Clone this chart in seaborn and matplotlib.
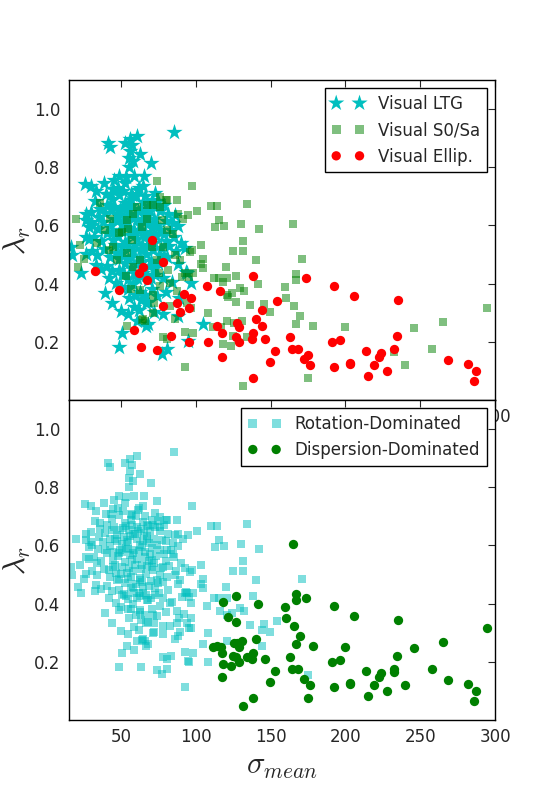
import matplotlib
matplotlib.use('Agg')
import matplotlib.pyplot as plt
import seaborn as sns

# Visual late-type galaxies (all rotation-dominated)
ltg_sigma = [85.6, 41.3, 42.3, 52.5, 55.9, 60.4, 57.5, 55.9, 62.6, 69.8, 55.4, 58.0,
             48.7, 53.2, 58.8, 65.5, 55.4, 45.0, 25.7, 30.2, 38.5, 33.1, 44.3, 51.4,
             72.8, 70.4, 62.0, 57.0, 66.0, 39.8, 29.7, 26.4, 28.6, 17.5, 16.3, 23.5,
             26.4, 33.1,
             32.5, 36.2, 40.4, 44.1, 48.6, 52.3, 56.8, 60.2, 64.5, 68.1, 72.6, 76.3,
             35.4, 39.2, 43.7, 47.1, 51.5, 55.3, 59.6, 63.2, 67.4, 71.8, 80.2, 84.5, 88.1,
             30.3, 34.6, 38.1, 42.7, 46.2, 50.4, 54.8, 58.3, 62.6, 66.2, 70.7, 74.1, 78.5, 85.2, 90.3, 92.6,
             28.4, 32.1, 36.7, 40.3, 44.5, 48.2, 52.7, 56.1, 60.6, 64.3, 68.5, 72.2, 76.6, 82.1, 86.4,
             26.2, 30.5, 34.1, 38.6, 42.3, 46.7, 50.2, 54.5, 58.1, 62.4, 66.8, 70.3, 74.7, 80.4, 88.2, 93.1,
             36.3, 40.6, 44.2, 48.5, 52.1, 56.6, 60.3, 64.7, 68.2, 72.5, 78.1, 84.3, 97.0, 94.0,
             39.1, 42.0, 46.4, 50.1, 54.6, 58.2, 62.5, 66.1, 70.6, 74.2, 80.3, 88.4,
             43.6, 49.9, 54.3, 58.4, 62.1, 66.5, 72.3, 78.2, 88.0, 60.4, 68.3,
             50.3, 48.7, 66.6, 77.1, 80.5, 95.0, 104.6, 86.0, 26.8, 30.2,
             45.5, 49.2, 53.6, 57.4, 61.3, 65.2, 69.4, 47.3, 51.8, 56.2, 60.8, 64.6, 68.7,
             44.6, 49.1, 53.3, 57.9, 61.7, 65.9, 69.2, 73.4, 46.1, 50.7, 55.2, 59.4, 63.1,
             67.3, 71.5, 75.8, 48.4, 52.9, 56.5, 60.1, 64.2, 68.8, 72.9, 50.6, 54.8, 58.7,
             62.9, 66.4, 70.2, 55.5, 59.8, 63.4, 67.7, 56.9, 61.1, 64.8, 52.4, 47.8, 43.2,
             74.5, 78.4, 81.6, 76.2, 80.1, 83.7]
ltg_lam = [0.922, 0.884, 0.868, 0.884, 0.896, 0.907, 0.875, 0.856, 0.847, 0.816, 0.833, 0.820,
           0.771, 0.765, 0.771, 0.771, 0.800, 0.755, 0.743, 0.737, 0.745, 0.720, 0.726, 0.720,
           0.711, 0.686, 0.730, 0.705, 0.700, 0.709, 0.646, 0.618, 0.595, 0.498, 0.527, 0.436,
           0.561, 0.465,
           0.683, 0.655, 0.672, 0.692, 0.703, 0.677, 0.688, 0.702, 0.681, 0.668, 0.662, 0.648,
           0.628, 0.643, 0.652, 0.637, 0.661, 0.654, 0.641, 0.658, 0.633, 0.621, 0.617, 0.607, 0.598,
           0.602, 0.588, 0.612, 0.597, 0.623, 0.604, 0.611, 0.586, 0.603, 0.578, 0.592, 0.601, 0.571, 0.562, 0.538, 0.521,
           0.553, 0.562, 0.547, 0.573, 0.551, 0.564, 0.542, 0.568, 0.553, 0.532, 0.548, 0.539, 0.522, 0.531, 0.512,
           0.503, 0.512, 0.497, 0.518, 0.492, 0.507, 0.501, 0.483, 0.513, 0.488, 0.502, 0.478, 0.472, 0.491, 0.468, 0.441,
           0.452, 0.461, 0.443, 0.448, 0.432, 0.453, 0.421, 0.438, 0.412, 0.428, 0.418, 0.407, 0.402, 0.436,
           0.368, 0.419, 0.401, 0.388, 0.381, 0.398, 0.372, 0.362, 0.383, 0.358, 0.371, 0.352,
           0.334, 0.306, 0.294, 0.321, 0.308, 0.332, 0.302, 0.294, 0.290, 0.272, 0.262,
           0.232, 0.183, 0.255, 0.158, 0.175, 0.204, 0.260, 0.635, 0.640, 0.612,
           0.665, 0.652, 0.668, 0.671, 0.648, 0.642, 0.651, 0.615, 0.628, 0.632, 0.622, 0.615, 0.608,
           0.578, 0.585, 0.592, 0.574, 0.582, 0.561, 0.571, 0.563, 0.532, 0.527, 0.521, 0.533, 0.518,
           0.529, 0.515, 0.498, 0.485, 0.471, 0.492, 0.468, 0.474, 0.462, 0.455, 0.428, 0.415, 0.437,
           0.425, 0.431, 0.418, 0.352, 0.361, 0.345, 0.338, 0.708, 0.722, 0.735, 0.745, 0.728, 0.708,
           0.685, 0.672, 0.641, 0.585, 0.548, 0.585]

# Visual S0/Sa, split by kinematic class
s0_rot_sigma = [97.2, 110.0, 114.0, 134.5, 101.0, 115.7, 113.0, 118.5, 130.5, 142.0, 131.8, 103.7,
                124.7, 131.8, 97.2, 104.6, 139.9, 170.7, 103.3, 105.0, 120.2, 112.2, 115.3, 121.0,
                129.6, 132.3, 120.6, 124.0, 135.9, 145.7, 149.7, 108.4, 121.0, 98.3,
                73.8, 19.7, 22.4, 25.0, 21.2, 36.2, 87.2, 80.5, 95.0, 91.6, 98.3, 92.7, 78.2, 80.9,
                93.0, 53.7, 66.0, 63.7, 86.0, 90.5, 95.2, 87.2, 96.5, 93.9,
                42.5, 50.3, 54.8, 57.0, 63.7, 67.5, 76.0, 80.5, 84.9, 86.0, 96.1, 70.4, 57.7, 53.2,
                62.6, 56.3, 71.0, 72.0, 64.8, 71.5, 81.6, 75.5, 82.7, 44.7, 33.6, 48.7, 60.4, 71.5,
                77.1, 88.3, 53.7, 62.6, 89.4, 78.2, 92.7, 76.0, 82.7, 73.8, 39.1, 42.0, 47.0, 53.7,
                58.1, 67.5, 76.0, 80.0]
s0_rot_lam = [0.735, 0.667, 0.667, 0.675, 0.650, 0.620, 0.595, 0.598, 0.606, 0.588, 0.547, 0.534,
              0.512, 0.512, 0.515, 0.485, 0.480, 0.486, 0.468, 0.453, 0.456, 0.420, 0.420, 0.420,
              0.385, 0.374, 0.362, 0.368, 0.326, 0.331, 0.303, 0.299, 0.272, 0.229,
              0.752, 0.623, 0.533, 0.485, 0.456, 0.678, 0.686, 0.686, 0.635, 0.621, 0.436, 0.234, 0.217, 0.209,
              0.113, 0.255, 0.272, 0.275, 0.277, 0.423, 0.423, 0.374, 0.317, 0.334,
              0.621, 0.578, 0.589, 0.550, 0.595, 0.623, 0.663, 0.584, 0.572, 0.499, 0.510, 0.527, 0.457, 0.427,
              0.379, 0.382, 0.362, 0.334, 0.277, 0.300, 0.447, 0.436, 0.402, 0.527, 0.538, 0.575, 0.663, 0.669,
              0.618, 0.640, 0.504, 0.481, 0.481, 0.527, 0.436, 0.391, 0.323, 0.481, 0.584, 0.515, 0.481, 0.618,
              0.640, 0.669, 0.697, 0.688]
s0_disp_sigma = [165.0, 167.0, 166.7, 118.4, 127.0, 141.7, 159.3, 121.8, 160.0, 127.0, 165.3, 169.4,
                 131.0, 125.6, 166.7, 178.0, 200.0, 111.3, 116.7, 125.1, 118.4, 123.8, 134.5, 174.7,
                 131.8, 245.8, 265.2, 294.7, 232.4, 257.6, 239.7]
s0_disp_lam = [0.606, 0.433, 0.411, 0.405, 0.425, 0.400, 0.387, 0.353, 0.351, 0.336, 0.324, 0.290,
               0.270, 0.263, 0.260, 0.255, 0.251, 0.251, 0.251, 0.221, 0.194, 0.184, 0.215, 0.074,
               0.047, 0.246, 0.268, 0.316, 0.165, 0.176, 0.120]

# Visual ellipticals, split by kinematic class
ell_rot_sigma = [138.5, 107.7, 116.2, 97.0, 95.6, 154.0, 144.4, 144.4, 108.4, 95.6, 174.7,
                 32.6, 48.7, 58.8, 63.5, 74.2, 64.8, 62.1, 67.1, 78.2, 92.1, 87.6, 78.2,
                 89.4, 83.1, 70.8]
ell_rot_lam = [0.425, 0.391, 0.374, 0.351, 0.316, 0.340, 0.309, 0.256, 0.198, 0.198, 0.156,
               0.445, 0.377, 0.241, 0.181, 0.173, 0.456, 0.435, 0.412, 0.476, 0.365, 0.334, 0.323,
               0.303, 0.221, 0.550]
ell_disp_sigma = [173.8, 192.6, 139.9, 114.0, 127.4, 129.1, 117.8, 138.5, 162.6, 127.0, 129.1,
                  137.2, 146.1, 153.2, 164.0, 168.0, 190.8, 196.2, 172.5, 176.0, 117.8, 149.7,
                  192.6, 138.5, 202.9, 206.0, 235.0, 234.2, 214.0, 232.4, 222.3, 223.9, 203.3,
                  219.4, 215.0, 227.7, 268.6, 282.0, 287.3, 286.0]
ell_disp_lam = [0.418, 0.391, 0.280, 0.256, 0.263, 0.251, 0.232, 0.232, 0.217, 0.217, 0.201,
                0.208, 0.210, 0.170, 0.176, 0.176, 0.198, 0.207, 0.142, 0.122, 0.149, 0.130,
                0.115, 0.074, 0.126, 0.357, 0.343, 0.221, 0.170, 0.176, 0.149, 0.160, 0.125,
                0.122, 0.081, 0.099, 0.136, 0.125, 0.101, 0.067]

x_ticks = [50, 100, 150, 200, 250, 300]
y_ticks = [0.2, 0.4, 0.6, 0.8, 1.0]

sns.set_style('white')
plt.rcParams['font.family'] = ['DejaVu Sans']
plt.rcParams['mathtext.fontset'] = 'cm'

CYAN = '#00bfbf'
GREEN = '#008000'
RED = '#ff0000'

fig, (ax1, ax2) = plt.subplots(2, 1, figsize=(5.5, 8), dpi=100)
fig.subplots_adjust(left=0.125, right=0.9, top=0.9, bottom=0.1, hspace=0)

# top panel: visual morphology
sns.scatterplot(x=ltg_sigma, y=ltg_lam, marker='*', s=150, color=CYAN, linewidth=0,
                label='Visual LTG', ax=ax1)
sns.scatterplot(x=s0_rot_sigma + s0_disp_sigma, y=s0_rot_lam + s0_disp_lam, marker='s',
                s=40, color=GREEN, alpha=0.5, linewidth=0, label='Visual S0/Sa', ax=ax1)
sns.scatterplot(x=ell_rot_sigma + ell_disp_sigma, y=ell_rot_lam + ell_disp_lam, marker='o',
                s=45, color=RED, linewidth=0, label='Visual Ellip.', ax=ax1)

# bottom panel: kinematic class
sns.scatterplot(x=ltg_sigma + s0_rot_sigma + ell_rot_sigma, y=ltg_lam + s0_rot_lam + ell_rot_lam,
                marker='s', s=40, color=CYAN, alpha=0.5, linewidth=0,
                label='Rotation-Dominated', ax=ax2)
sns.scatterplot(x=s0_disp_sigma + ell_disp_sigma, y=s0_disp_lam + ell_disp_lam, marker='o',
                s=45, color=GREEN, linewidth=0, label='Dispersion-Dominated', ax=ax2)

for ax in (ax1, ax2):
    ax.set_xlim(15, 300)
    ax.set_ylim(0, 1.1)
    ax.set_xticks(x_ticks)
    ax.set_yticks(y_ticks)
    ax.tick_params(direction='in', top=True, right=True, length=5, width=0.8,
                   labelsize=12, pad=6)
    for sp in ax.spines.values():
        sp.set_color('black')
        sp.set_linewidth(1)
    ax.set_ylabel(r'$\lambda_r$', fontsize=22, labelpad=1)
    ax.legend(loc='upper right', scatterpoints=2, scatteryoffsets=[0.5], fontsize=12,
              fancybox=False, edgecolor='black', framealpha=1, handlelength=2,
              handletextpad=0.8, borderpad=0.4, labelspacing=0.5, borderaxespad=0.5)
    ax.get_legend().get_frame().set_linewidth(1)

ax2.set_xlabel(r'$\sigma_{mean}$', fontsize=22)

fig.savefig('out.png', dpi=100)
